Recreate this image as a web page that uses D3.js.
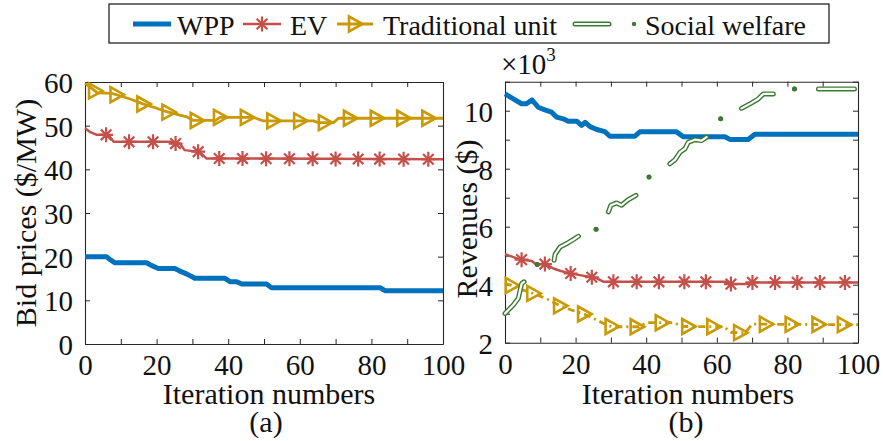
<!DOCTYPE html>
<html><head><meta charset="utf-8">
<script src="https://cdn.jsdelivr.net/npm/d3@7"></script>
<style>
body{margin:0;background:#fff}
svg{display:block}
text{font-family:"Liberation Serif","Times New Roman",serif;fill:#111}
</style>
</head><body>
<svg id="c" width="883" height="441"></svg>
<script>
// ---------- data ----------
const seriesNames = ["WPP", "EV", "Traditional unit", "Social welfare"];
const iterTicks = [0, 20, 40, 60, 80, 100];
const bidTicks = [0, 10, 20, 30, 40, 50, 60];
const revTicks = [2, 4, 6, 8, 10];
const panelLabels = ["(a)", "(b)"];
const xLabel = "Iteration numbers";
const yLabelA = "Bid prices ($/MW)";
const yLabelB = "Revenues ($)";

// (a) bid prices  [iteration, $/MW]
const bidWPP = [[0,20],[6,20],[7,19.3],[8.4,18.6],[17.2,18.6],[18.5,18],[20.5,17.3],[25.1,17.3],[26.5,16.7],[28.5,16],[30.7,15.04],[39.1,15.04],[40.5,14.27],[42.4,14.27],[43.8,13.74],[50.7,13.74],[52.1,12.9],[82.4,12.9],[83.8,12.2],[100,12.2]];
const bidEV = [[0,49.4],[1.5,48.5],[3.3,47.9],[6.5,47.9],[8,46.3],[24,46.3],[25,45.9],[26.5,45.9],[27.8,44.4],[32,44],[33.9,42.5],[100,42.3]];
const bidTrad = [[0,59.7],[2,58.5],[3.5,57.5],[7.5,57.4],[10,56.8],[12.6,56.1],[15.8,55.1],[18,54.5],[20,54],[22.8,53.2],[26.5,52.4],[28.5,52],[30.3,51.2],[36.5,51.2],[37.7,51.9],[47,51.9],[49.8,51.1],[63.8,51.1],[65.2,50.7],[69.4,50.7],[70.8,51.7],[100,51.7]];
const bidEVMarks = [5.9,12.3,19,25.3,31.6,37.5,44,50.6,57.1,63.6,70,76.3,82.3,89,95.9];
const bidTradMarks = [2.8,8.8,16.3,23.3,31.2,37.7,45.2,52.6,60.1,67,74,81.5,88.9,95.9];

// (b) revenues  [iteration, $ x10^3]
const revWPP = [[0,10.58],[2.35,10.41],[4.7,10.24],[6.1,10.24],[7.6,10.37],[9.4,10.12],[11.3,10.03],[13.2,9.95],[14.6,9.78],[16.5,9.72],[17.9,9.64],[20.3,9.64],[21.7,9.49],[22.7,9.6],[24.1,9.45],[26,9.35],[28.3,9.28],[29.7,9.12],[36.8,9.12],[38.2,9.27],[48.6,9.27],[50.5,9.1],[62.3,9.1],[63.7,9.01],[68.9,9.01],[70.8,9.19],[100,9.19]];
const revEV = [[0,5.05],[2,4.97],[4.3,4.87],[7.6,4.82],[9,4.68],[10.9,4.73],[12,4.68],[13.7,4.56],[15.6,4.48],[18.4,4.39],[21.2,4.33],[24.1,4.27],[26,4.22],[28,4.1],[63,4.1],[64,4.02],[69,4.02],[70,4.08],[100,4.08]];
const revTrad = [[0,4.05],[2,3.97],[5,3.82],[8,3.7],[12,3.5],[15.6,3.27],[19,3.12],[22.4,2.99],[26,2.78],[29,2.6],[30.5,2.55],[38,2.55],[40,2.69],[48,2.69],[50,2.56],[62,2.55],[64,2.36],[68,2.34],[70,2.64],[100,2.62]];
const revWelfare = [[0,3.01],[2.35,3.3],[3.77,3.53],[4.73,4.04],[5.38,4.1],[7,null],[9.15,4.7],[11,null],[13.9,4.84],[14.2,5.05],[15.6,5.3],[17.5,5.42],[19.4,5.56],[20.8,5.67],[23,null],[25.8,5.91],[27,null],[29.3,6.51],[30,6.74],[31.6,6.82],[33,6.74],[34.9,6.93],[37.1,7.08],[39,null],[40.8,7.71],[43,null],[46.7,8.17],[48.2,8.31],[49.6,8.57],[51,8.69],[51.9,8.91],[53.8,9],[55.7,8.97],[57.1,9.09],[59,null],[61.1,9.72],[64,null],[67,10.08],[69.9,10.27],[71.8,10.41],[73.2,10.58],[76,10.58],[79,null],[82,10.75],[85,null],[88.8,10.75],[99,10.75]];
const revEVMarks = [4.7,11.3,18.6,24.6,30.7,37.3,43.6,50.8,56.9,64,70.1,76.5,82.8,89.2,96.3];
const revTradMarks = [1.9,8,15.6,22.4,30.2,37.3,44.4,51.9,59,66.6,73.9,81.2,88.8,96];

// ---------- style ----------
const C = {wpp:"#0072BD", ev:"#C5504A", trad:"#C99A06", sw:"#3B7A33", axis:"#262626"};
const svg = d3.select("#c");

function interp(series, x) {
  for (let i = 1; i < series.length; i++) {
    const a = series[i-1], b = series[i];
    if (x <= b[0]) return a[1] + (b[1]-a[1]) * (x-a[0]) / (b[0]-a[0]);
  }
  return series[series.length-1][1];
}
function asterisk(g, x, y, color) {
  g.append("path")
    .attr("d", `M${x-7},${y}H${x+7}M${x},${y-7.5}V${y+7.5}M${x-5.3},${y-5.3}L${x+5.3},${y+5.3}M${x-5.3},${y+5.3}L${x+5.3},${y-5.3}`)
    .attr("stroke", color).attr("stroke-width", 2.2).attr("fill", "none");
}
function triangle(g, x, y, color) {
  g.append("path")
    .attr("d", `M${x-6},${y-7.5}L${x+7.5},${y}L${x-6},${y+7.5}Z`)
    .attr("stroke", color).attr("stroke-width", 2.6).attr("fill", "none")
    .attr("stroke-linejoin", "miter");
}

function drawFrame(x, y, yTickVals, yLabelVals) {
  const [x0, x1] = x.range(), [y0, y1] = y.range();
  const g = svg.append("g");
  const xt = d3.range(0, 101, 10);
  const bottom = g.append("g").attr("transform", `translate(0,${y0})`)
    .call(d3.axisBottom(x).tickValues(xt).tickSize(-5).tickSizeOuter(0)
      .tickFormat(d => iterTicks.includes(d) ? d : ""));
  g.append("g").attr("transform", `translate(0,${y1})`)
    .call(d3.axisTop(x).tickValues(xt).tickSize(-5).tickSizeOuter(0).tickFormat(""));
  const left = g.append("g").attr("transform", `translate(${x0},0)`)
    .call(d3.axisLeft(y).tickValues(yTickVals).tickSize(-5).tickSizeOuter(0)
      .tickFormat(d => yLabelVals.includes(d) ? d : ""));
  g.append("g").attr("transform", `translate(${x1},0)`)
    .call(d3.axisRight(y).tickValues(yTickVals).tickSize(-5).tickSizeOuter(0).tickFormat(""));
  g.selectAll(".domain").attr("stroke", C.axis).attr("stroke-width", 1.1);
  g.selectAll(".tick line").attr("stroke", C.axis).attr("stroke-width", 1);
  bottom.selectAll("text").attr("y", 31).attr("dy", null)
    .style("font-size", "29px").style("font-family", '"Liberation Serif",serif').attr("fill", "#111");
  left.selectAll("text").attr("x", -12).attr("dy", "0.36em")
    .style("font-size", "29px").style("font-family", '"Liberation Serif",serif').attr("fill", "#111");
  return g;
}

function lineOf(x, y) {
  return d3.line().defined(d => d[1] != null).x(d => x(d[0])).y(d => y(d[1]));
}

// ---------- panel (a) ----------
const xA = d3.scaleLinear([0, 100], [85, 443]);
const yA = d3.scaleLinear([0, 60], [344, 82]);
drawFrame(xA, yA, bidTicks, bidTicks);
const gA = svg.append("g");
gA.append("path").attr("d", lineOf(xA, yA)(bidWPP)).attr("fill", "none")
  .attr("stroke", C.wpp).attr("stroke-width", 5).attr("stroke-linejoin", "round");
gA.append("path").attr("d", lineOf(xA, yA)(bidEV)).attr("fill", "none")
  .attr("stroke", C.ev).attr("stroke-width", 2.5).attr("stroke-linejoin", "round");
bidEVMarks.forEach(m => asterisk(gA, xA(m), yA(interp(bidEV, m)), C.ev));
gA.append("path").attr("d", lineOf(xA, yA)(bidTrad)).attr("fill", "none")
  .attr("stroke", C.trad).attr("stroke-width", 2.8).attr("stroke-linejoin", "round");
bidTradMarks.forEach(m => triangle(gA, xA(m), yA(interp(bidTrad, m)), C.trad));

// ---------- panel (b) ----------
const xB = d3.scaleLinear([0, 100], [505, 858]);
const yB = d3.scaleLinear([2, 11], [342.7, 81.7]);
drawFrame(xB, yB, d3.range(2, 12, 1), revTicks);
const gB = svg.append("g");
gB.append("path").attr("d", lineOf(xB, yB)(revWPP)).attr("fill", "none")
  .attr("stroke", C.wpp).attr("stroke-width", 5).attr("stroke-linejoin", "round");
gB.append("path").attr("d", lineOf(xB, yB)(revEV)).attr("fill", "none")
  .attr("stroke", C.ev).attr("stroke-width", 2.5).attr("stroke-linejoin", "round");
revEVMarks.forEach(m => asterisk(gB, xB(m), yB(interp(revEV, m)), C.ev));
gB.append("path").attr("d", lineOf(xB, yB)(revTrad)).attr("fill", "none")
  .attr("stroke", C.trad).attr("stroke-width", 2.8).attr("stroke-dasharray", "7,4,2,4");
revTradMarks.forEach(m => triangle(gB, xB(m), yB(interp(revTrad, m)), C.trad));
// social welfare: outlined dash-dot line
const swPath = lineOf(xB, yB)(revWelfare);
gB.append("path").attr("d", swPath).attr("fill", "none").attr("stroke", C.sw)
  .attr("stroke-width", 5).attr("stroke-linecap", "round").attr("stroke-linejoin", "round");
gB.append("path").attr("d", swPath).attr("fill", "none").attr("stroke", "#fff")
  .attr("stroke-width", 2.2).attr("stroke-linecap", "round").attr("stroke-linejoin", "round");
const isolated = revWelfare.filter((d, i) => d[1] != null &&
  (i === 0 || revWelfare[i-1][1] == null) && (i === revWelfare.length-1 || revWelfare[i+1][1] == null));
gB.selectAll("circle.sw").data(isolated).join("circle").attr("class", "sw")
  .attr("cx", d => xB(d[0])).attr("cy", d => yB(d[1])).attr("r", 2.4).attr("fill", C.sw);

// ---------- axis titles ----------
const T = svg.append("g").style("font-size", "30px");
T.append("text").attr("x", 269).attr("y", 404).attr("text-anchor", "middle").text(xLabel);
T.append("text").attr("x", 688).attr("y", 404).attr("text-anchor", "middle").text(xLabel);
T.append("text").attr("x", 266).attr("y", 432).attr("text-anchor", "middle").text(panelLabels[0]);
T.append("text").attr("x", 686).attr("y", 432).attr("text-anchor", "middle").text(panelLabels[1]);
T.append("text").attr("transform", "translate(36,213) rotate(-90)").attr("text-anchor", "middle").text(yLabelA);
T.append("text").attr("transform", "translate(477,219) rotate(-90)").attr("text-anchor", "middle").text(yLabelB);
const ex = T.append("text").attr("x", 501).attr("y", 74).style("font-size", "29px");
ex.append("tspan").text("\u00d710");
ex.append("tspan").attr("dy", -13).style("font-size", "19px").text("3");

// ---------- legend ----------
const L = svg.append("g");
L.append("rect").attr("x", 109).attr("y", 4).attr("width", 720).attr("height", 39)
  .attr("fill", "#fff").attr("stroke", "#111").attr("stroke-width", 1.2);
const ly = 24;
L.append("line").attr("x1", 133).attr("x2", 171).attr("y1", ly).attr("y2", ly)
  .attr("stroke", C.wpp).attr("stroke-width", 5);
L.append("line").attr("x1", 243).attr("x2", 281).attr("y1", ly).attr("y2", ly)
  .attr("stroke", C.ev).attr("stroke-width", 2.5);
asterisk(L, 262, ly, C.ev);
L.append("line").attr("x1", 337).attr("x2", 373).attr("y1", ly).attr("y2", ly)
  .attr("stroke", C.trad).attr("stroke-width", 2.8);
triangle(L, 355, ly, C.trad);
L.append("line").attr("x1", 575).attr("x2", 609).attr("y1", ly).attr("y2", ly)
  .attr("stroke", C.sw).attr("stroke-width", 5).attr("stroke-linecap", "round");
L.append("line").attr("x1", 575).attr("x2", 609).attr("y1", ly).attr("y2", ly)
  .attr("stroke", "#fff").attr("stroke-width", 2.2).attr("stroke-linecap", "round");
L.append("circle").attr("cx", 634).attr("cy", ly).attr("r", 2.2).attr("fill", C.sw);
const legX = [177, 290, 383, 645];
L.selectAll("text.lg").data(seriesNames).join("text").attr("class", "lg")
  .attr("x", (d, i) => legX[i]).attr("y", 35).style("font-size", "28px").text(d => d);
</script>
</body></html>
